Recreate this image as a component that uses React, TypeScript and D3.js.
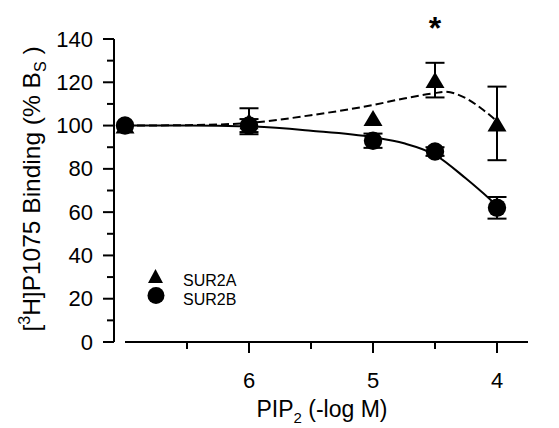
import React from "react";
import * as d3 from "d3";

// concentrations (-log M); 7 stands for the control point
const conc = [7, 6, 5, 4.5, 4];
const sur2aMean = [100, 102, 103.5, 121, 101];
const sur2aErr = [0, 6, 0, 8, 17];
const sur2bMean = [100, 100, 93, 88, 62];
const sur2bErr = [0, 3, 3.3, 2, 5];

// fitted curves
const sur2aFit: [number, number][] = [
  [7, 100], [6.5, 100.2], [6, 101.2], [5.5, 104.8], [5, 109.5], [4.75, 112.5],
  [4.5, 115], [4.42, 115.6], [4.25, 112.6], [4.11, 107.2], [4, 102],
];
const sur2bFit: [number, number][] = [
  [7, 100], [6.5, 100], [6, 99.6], [5.5, 97.6], [5, 94.6], [4.75, 91.8],
  [4.5, 86.5], [4.25, 75.5], [4.05, 65.6], [4, 63],
];

const xMajor = [6, 5, 4];
const xMinor = [6.5, 5.5, 4.5];
const yMajor = [0, 20, 40, 60, 80, 100, 120, 140];
const yMinor = [10, 30, 50, 70, 90, 110, 130];
const legendLabels = ["SUR2A", "SUR2B"];
const starAt = 4.5;

const FONT = "'Liberation Sans', Arial, Helvetica, sans-serif";

const App = () => {
  const x = d3.scaleLinear().domain([7, 3.75]).range([125, 528]);
  const y = d3.scaleLinear().domain([0, 140]).range([342, 39]);
  const yAxisX = 114;
  const xAxisY = 342;

  const line = d3
    .line<[number, number]>()
    .x((d) => x(d[0]))
    .y((d) => y(d[1]))
    .curve(d3.curveMonotoneX);

  const tri = (cx: number, cy: number, w: number, h: number) =>
    `M${cx},${cy - h / 2}L${cx + w / 2},${cy + h / 2}L${cx - w / 2},${cy + h / 2}Z`;

  const errBar = (cx: number, m: number, e: number, key: string) => {
    if (e <= 0) return null;
    const y1 = y(m - e);
    const y2 = y(m + e);
    return (
      <g key={key} stroke="#000" strokeWidth={2}>
        <line x1={cx} x2={cx} y1={y1} y2={y2} />
        <line x1={cx - 9.5} x2={cx + 9.5} y1={y1} y2={y1} />
        <line x1={cx - 9.5} x2={cx + 9.5} y1={y2} y2={y2} />
      </g>
    );
  };

  return (
    <svg
      width={559}
      height={428}
      style={{ position: "absolute", left: 0, top: 0, background: "#fff" }}
      fontFamily={FONT}
    >
      {/* y axis */}
      <line x1={yAxisX} x2={yAxisX} y1={y(140)} y2={y(0)} stroke="#000" strokeWidth={2} />
      {yMajor.map((v) => (
        <g key={"ym" + v}>
          <line x1={yAxisX - 11} x2={yAxisX} y1={y(v)} y2={y(v)} stroke="#000" strokeWidth={2} />
          <text x={93} y={y(v) + 7.5} textAnchor="end" fontSize={22}>
            {v}
          </text>
        </g>
      ))}
      {yMinor.map((v) => (
        <line key={"yn" + v} x1={yAxisX - 7} x2={yAxisX} y1={y(v)} y2={y(v)} stroke="#000" strokeWidth={2} />
      ))}

      {/* x axis */}
      <line x1={x(7)} x2={x(3.75)} y1={xAxisY} y2={xAxisY} stroke="#000" strokeWidth={2} />
      {xMajor.map((v) => (
        <g key={"xm" + v}>
          <line x1={x(v)} x2={x(v)} y1={xAxisY} y2={xAxisY + 11} stroke="#000" strokeWidth={2} />
          <text x={x(v)} y={388} textAnchor="middle" fontSize={22}>
            {v}
          </text>
        </g>
      ))}
      {xMinor.map((v) => (
        <line key={"xn" + v} x1={x(v)} x2={x(v)} y1={xAxisY} y2={xAxisY + 7} stroke="#000" strokeWidth={2} />
      ))}

      {/* axis titles */}
      <text x={322} y={417} textAnchor="middle" fontSize={23}>
        PIP
        <tspan fontSize={15} dy={6}>2</tspan>
        <tspan dy={-6}> (-log M)</tspan>
      </text>
      <text transform="translate(40,189) rotate(-90)" textAnchor="middle" fontSize={24.5}>
        [<tspan fontSize={16} dy={-10}>3</tspan>
        <tspan dy={10}>H]P1075 Binding (% B</tspan>
        <tspan fontSize={16} dy={6}>S</tspan>
        <tspan dy={-6}> )</tspan>
      </text>

      {/* fitted curves */}
      <path d={line(sur2aFit) ?? ""} fill="none" stroke="#000" strokeWidth={2} strokeDasharray="8,4" />
      <path d={line(sur2bFit) ?? ""} fill="none" stroke="#000" strokeWidth={2} />

      {/* error bars */}
      {conc.map((c, i) => errBar(x(c), sur2bMean[i], sur2bErr[i], "eb" + i))}
      {conc.map((c, i) => errBar(x(c), sur2aMean[i], sur2aErr[i], "ea" + i))}

      {/* markers */}
      {conc.map((c, i) => (
        <circle key={"cb" + i} cx={x(c)} cy={y(sur2bMean[i])} r={9.2} fill="#000" />
      ))}
      {conc.map((c, i) => (
        <path key={"ta" + i} d={tri(x(c), y(sur2aMean[i]), 19, 16)} fill="#000" />
      ))}

      {/* significance */}
      <text x={x(starAt)} y={39} textAnchor="middle" fontSize={32} fontWeight="bold">
        *
      </text>

      {/* legend */}
      <path d={tri(155.5, 276, 15, 14)} fill="#000" />
      <circle cx={156} cy={295.5} r={8.5} fill="#000" />
      <text x={183} y={286} fontSize={16}>
        {legendLabels[0]}
      </text>
      <text x={183} y={304.5} fontSize={16}>
        {legendLabels[1]}
      </text>
    </svg>
  );
};

export default App;
